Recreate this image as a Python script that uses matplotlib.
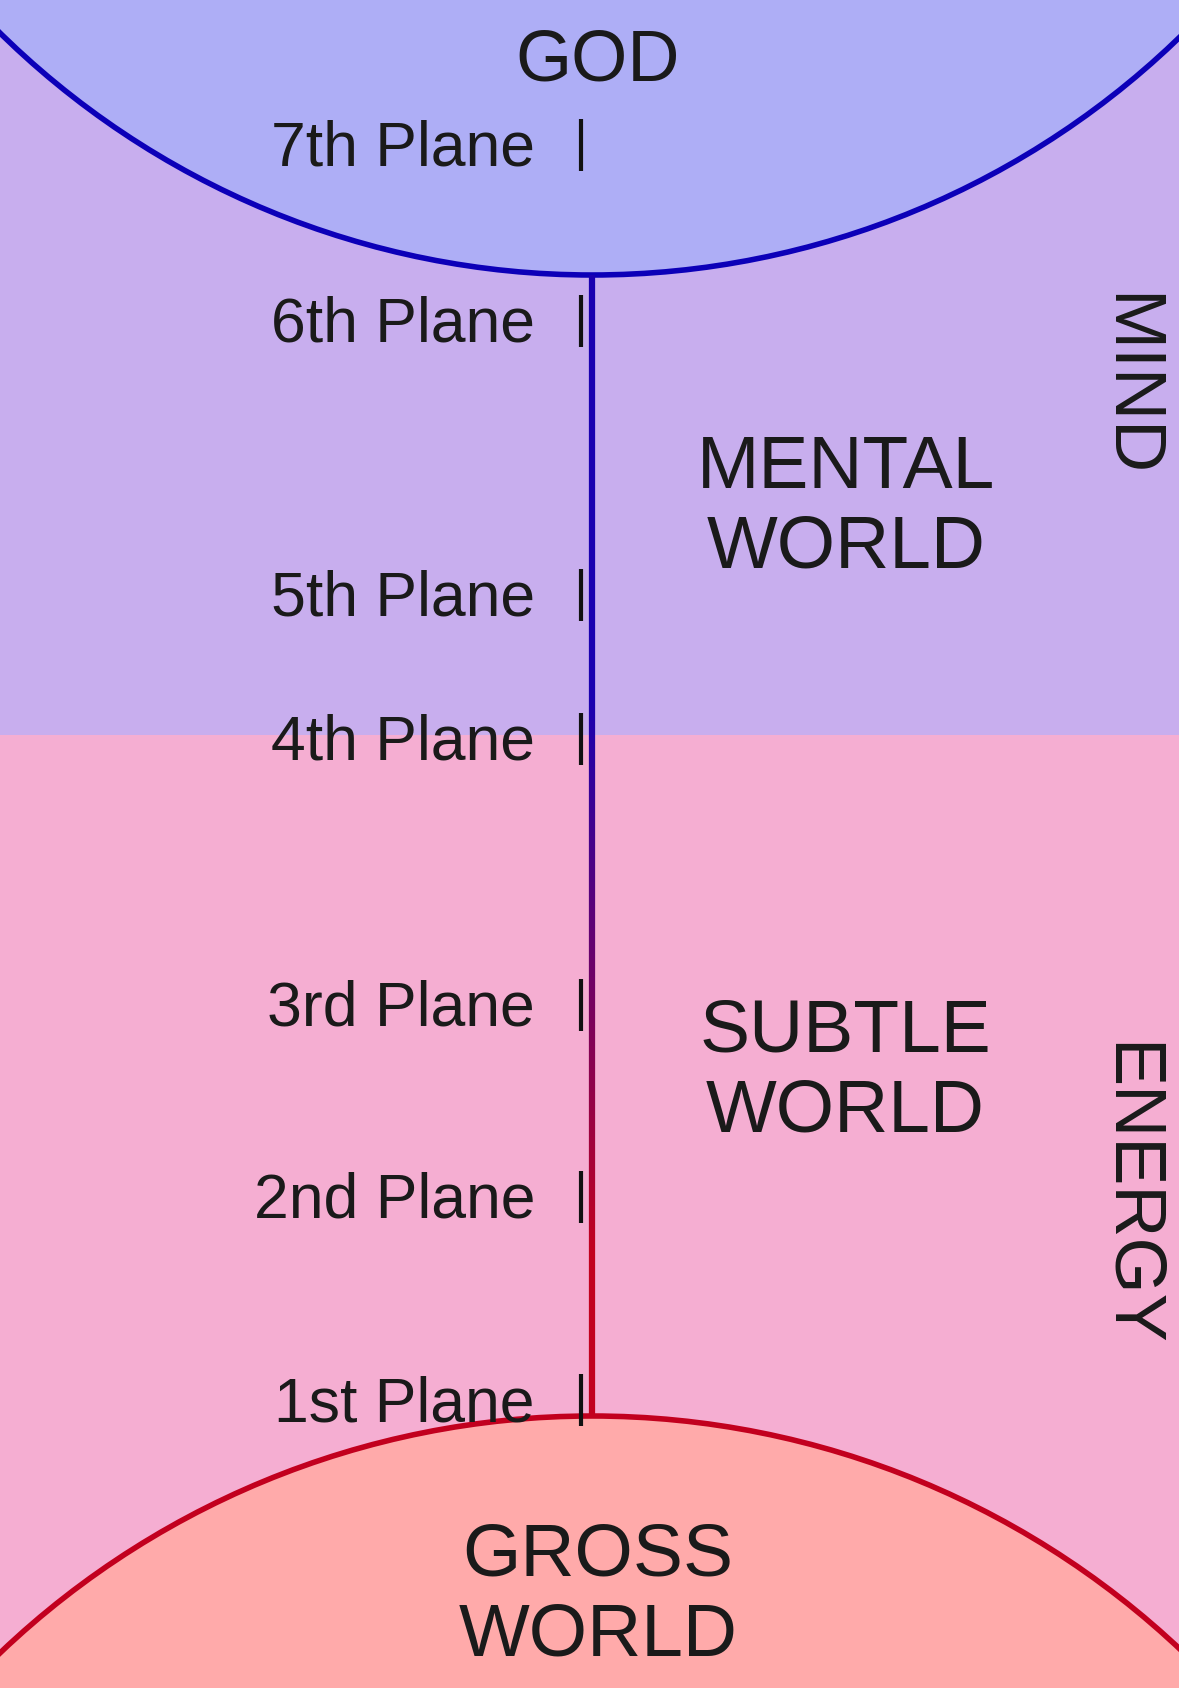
import numpy as np
import matplotlib
matplotlib.use('Agg')
import matplotlib.pyplot as plt
from matplotlib.patches import Circle, Rectangle
from matplotlib.collections import LineCollection
from matplotlib.colors import to_rgb

plt.rcParams['font.family'] = ['Liberation Sans', 'DejaVu Sans']

# planes (label, tick position in px from top)
plane_labels = ['7th Plane', '6th Plane', '5th Plane', '4th Plane',
                '3rd Plane', '2nd Plane', '1st Plane']
plane_y = [145, 321, 595, 739, 1005, 1197, 1400]

# big region labels (text, x, y)
world_labels = ['GOD', 'MENTAL\nWORLD', 'SUBTLE\nWORLD', 'GROSS\nWORLD']
world_x = [598, 846, 845, 598]
world_y = [62, 508, 1072, 1596]
side_labels = ['MIND', 'ENERGY']
side_y = [385, 1194]

W, H = 1179, 1688
fig = plt.figure(figsize=(W / 100, H / 100), dpi=100)
ax = fig.add_axes([0, 0, 1, 1])
ax.set_xlim(0, W)
ax.set_ylim(H, 0)
ax.axis('off')

# backgrounds
ax.add_patch(Rectangle((0, 0), W, 735, facecolor='#C8AEEE', edgecolor='none'))
ax.add_patch(Rectangle((0, 735), W, H - 735, facecolor='#F5AED2', edgecolor='none'))

# god and gross circles
ax.add_patch(Circle((592, -570), 845, facecolor='#AEAEF6', edgecolor='#0C00B8', lw=4.0, zorder=2))
ax.add_patch(Circle((592, 2274), 858, facecolor='#FFAAAA', edgecolor='#C2001E', lw=4.0, zorder=2))

# central line, blue -> red
ys = np.linspace(275, 1416, 300)
blue, red = np.array(to_rgb('#1A00B0')), np.array(to_rgb('#C2001E'))
t = np.clip((ys - 700) / 550, 0, 1)
cols = [blue * (1 - k) + red * k for k in t[:-1]]
segs = [[(592, ys[i]), (592, ys[i + 1])] for i in range(len(ys) - 1)]
ax.add_collection(LineCollection(segs, colors=cols, linewidths=4.5, zorder=3, capstyle='butt'))

# plane ticks and labels
for lab, y in zip(plane_labels, plane_y):
    ax.plot([581, 581], [y - 26, y + 26], color='#111111', lw=3.0, zorder=4, solid_capstyle='butt')
    ax.text(535, y + 21, lab, ha='right', va='baseline', fontsize=45, color='#1a1a1a', zorder=5)

for lab, x, y in zip(world_labels, world_x, world_y):
    ax.text(x, y, lab, ha='center', va='center', fontsize=54 if lab != 'GOD' else 52,
            color='#1a1a1a', linespacing=1.2, zorder=5)

for lab, y in zip(side_labels, side_y):
    ax.text(1128, y, lab, ha='center', va='center', rotation=270, fontsize=52,
            color='#1a1a1a', zorder=5)

fig.savefig('out.png', dpi=100)
